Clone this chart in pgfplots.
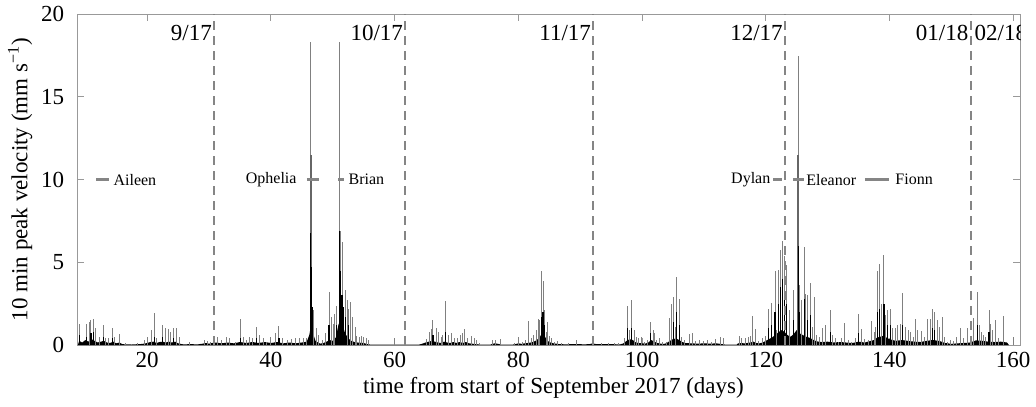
\documentclass[border=0pt]{standalone}
\usepackage{fontspec}
\setmainfont{Liberation Serif}
\usepackage{pgfplots}
\pgfplotsset{compat=1.18}

\definecolor{spike}{gray}{0.5}
\definecolor{mid}{gray}{0.4}
\definecolor{guide}{gray}{0.52}
\definecolor{frame}{gray}{0.6}

\begin{document}
\begin{tikzpicture}
\begin{axis}[
    scale only axis,
    width=471.35pt, height=165.35pt,
    xmin=8.7, xmax=161.1,
    ymin=0, ymax=20,
    xtick={20,40,...,160},
    ytick={0,5,10,15,20},
    axis line style={frame},
    tick style={frame, line width=0.5pt},
    major tick length=3.5pt,
    /pgf/number format/assume math mode=true,
    tick label style={font=\fontsize{11.5}{13}\selectfont},
    yticklabel style={xshift=-3pt},
    label style={font=\fontsize{11.5}{13}\selectfont},
    xlabel={time from start of September 2017 (days)},
    ylabel={10 min peak velocity (mm s\textsuperscript{−1})},
    xlabel style={at={(axis description cs:0.505,-0.13)}, anchor=center},
    ylabel style={at={(axis description cs:-0.0607,0.5)}, anchor=center},
    clip=true,
]

% dense low-level background
\addplot[fill=black, draw=none] coordinates {
(8.8,0)(9,0.25)(9.5,0.15)(10,0.3)(10.5,0.2)(11,0.35)(11.5,0.25)(12,0.15)(12.5,0.2)(13,0.25)
(13.5,0.15)(14,0.12)(14.5,0.2)(15,0.1)(15.5,0.15)(16,0.05)(17,0.03)(18,0.04)(19,0.06)(19.5,0.08)
(20,0.12)(20.5,0.18)(21,0.2)(21.5,0.12)(22,0.18)(22.5,0.2)(23,0.15)(23.5,0.2)(24,0.15)(24.5,0.2)
(25,0.1)(25.5,0.06)(26,0.03)(27,0.06)(28,0.03)(29,0.08)(29.5,0.12)(30,0.08)(30.5,0.12)(31,0.15)
(32,0.1)(33,0.15)(34,0.1)(35,0.18)(36,0.12)(37,0.18)(38,0.12)(39,0.18)(40,0.12)(41,0.18)
(42,0.1)(43,0.15)(44,0.1)(45,0.15)(45.8,0.2)(46.2,0.6)(46.5,1.2)(46.8,0.7)(47.2,0.25)(47.6,0.15)
(48,0.08)(48.5,0.12)(49,0.2)(49.5,0.3)(50,0.25)(50.5,0.45)(50.9,1.2)(51.3,1.6)(51.6,1.2)(52,0.7)
(52.5,0.4)(53,0.25)(53.5,0.18)(54,0.15)(55,0.12)(55.5,0.06)(56,0.03)(62,0.02)(64,0.03)(64.5,0.08)
(65,0.15)(65.5,0.2)(66,0.25)(66.5,0.2)(67,0.15)(67.5,0.12)(68,0.2)(68.5,0.15)(69,0.12)(69.5,0.18)
(70,0.12)(70.5,0.18)(71,0.12)(71.5,0.18)(72,0.1)(72.5,0.08)(73,0.06)(73.5,0.04)(74,0.02)(75.5,0.02)
(75.8,0.08)(76.3,0.1)(76.8,0.06)(77.3,0.02)(79,0.02)(79.5,0.05)(80,0.1)(80.5,0.07)(81,0.1)(81.5,0.12)
(82,0.15)(82.5,0.2)(83,0.3)(83.5,0.5)(83.9,0.75)(84.3,0.5)(84.7,0.25)(85.2,0.15)(85.7,0.1)(86.5,0.06)
(87.5,0.04)(88.5,0.05)(89.5,0.06)(90.5,0.04)(91.5,0.05)(92,0.1)(92.5,0.06)(93.5,0.05)(95,0.05)(96.5,0.04)
(97,0.1)(97.5,0.25)(98,0.35)(98.5,0.3)(99,0.15)(99.5,0.12)(100,0.1)(100.5,0.08)(101,0.15)(101.5,0.3)
(102,0.2)(102.5,0.12)(103,0.08)(103.5,0.06)(104,0.12)(104.5,0.25)(105,0.35)(105.5,0.4)(106,0.3)(106.5,0.18)
(107,0.12)(108,0.1)(109,0.08)(110,0.1)(111,0.08)(112,0.1)(113,0.05)(113.5,0.02)(115.3,0.02)(115.5,0.1)
(116,0.12)(116.5,0.1)(117,0.12)(117.5,0.15)(118,0.2)(118.5,0.12)(119,0.1)(119.5,0.15)(120,0.25)(120.5,0.35)
(121,0.45)(121.5,0.6)(122,0.75)(122.5,0.9)(123,0.8)(123.5,0.6)(124,0.5)(124.5,0.65)(125,0.9)(125.5,0.7)
(126,0.6)(126.5,0.5)(127,0.45)(127.5,0.35)(128,0.25)(128.5,0.2)(129,0.18)(130,0.2)(131,0.15)(132,0.18)
(133,0.15)(134,0.12)(135,0.2)(136,0.15)(137,0.25)(137.5,0.3)(138,0.45)(138.5,0.5)(139,0.55)(139.5,0.45)
(140,0.35)(140.5,0.3)(141,0.25)(142,0.3)(143,0.25)(144,0.2)(145,0.18)(146,0.25)(147,0.3)(148,0.25)
(149,0.12)(150,0.07)(151,0.1)(152,0.12)(153,0.15)(154,0.28)(155,0.25)(156,0.2)(157,0.18)(158,0.2)
(159,0.15)(159.3,0)
} \closedcycle;

% peak values
\addplot[ycomb, spike, line width=0.5pt, mark=none] coordinates {
(9.1,1.25)(10.2,1.25)(10.6,1.4)(10.9,1.5)(11.3,1.6)(11.6,1.0)(12.3,0.5)(12.9,1.2)(13.3,0.45)(13.8,0.4)
(14.4,1.0)(14.7,0.5)(15.5,0.65)(16.5,0.1)(17.5,0.08)(18.5,0.1)(19.5,0.3)(20.0,0.5)(20.7,0.9)(21.2,1.95)
(21.5,0.4)(22.5,1.2)(23.0,1.0)(23.4,0.95)(23.8,0.8)(24.2,1.05)(24.7,1.05)(25.2,0.5)(26.9,0.2)(29.3,0.3)
(29.8,0.25)(30.3,0.2)(31.3,0.5)(32.0,0.3)(32.8,0.5)(33.3,0.4)(34.2,0.2)(35.1,1.6)(35.6,0.5)(36.1,0.3)
(36.5,0.5)(37.0,0.45)(37.7,1.1)(38.2,0.6)(38.8,0.4)(39.3,0.2)(39.9,0.5)(40.7,0.7)(41.3,1.15)(41.9,0.4)
(42.6,0.3)(43.3,0.35)(43.9,0.4)(44.6,0.4)(45.2,0.4)(45.8,0.45)(46.45,18.3)(46.9,2.1)(47.3,1.0)(47.7,0.6)
(48.3,0.3)(48.9,0.75)(49.4,3.2)(49.8,1.7)(50.1,1.3)(50.3,1.9)(50.6,2.35)(51.05,18.3)(51.3,6.9)(51.6,6.25)
(52.0,3.3)(52.3,2.75)(52.6,2.2)(52.9,2.6)(53.2,1.7)(53.6,1.1)(53.9,0.55)(54.3,0.5)(54.7,0.55)(55.0,0.5)
(55.4,0.4)(55.8,0.3)(60.0,0.45)(65.2,0.35)(65.6,0.8)(65.9,0.95)(66.2,1.5)(66.7,1.0)(67.1,0.8)(67.5,0.5)
(67.8,0.6)(68.2,2.65)(68.7,0.6)(69.2,0.7)(69.7,0.45)(70.2,0.45)(70.6,0.6)(70.9,0.7)(71.3,0.95)(71.8,0.4)
(72.4,0.55)(72.9,0.45)(73.3,0.3)(73.8,0.1)(75.9,0.3)(76.3,0.3)(77.1,0.35)(79.3,0.15)(80.0,0.5)(80.6,0.2)
(81.1,0.3)(81.7,1.45)(82.1,0.45)(82.5,0.6)(82.9,0.9)(83.2,1.55)(83.5,1.5)(83.7,4.5)(84.0,3.9)(84.2,2.1)
(84.5,0.8)(84.7,1.4)(85.0,0.55)(85.4,0.4)(85.9,0.2)(86.4,0.25)(87.0,0.1)(88.1,0.15)(89.4,0.3)(92.1,0.4)
(93.5,0.15)(94.5,0.15)(95.5,0.15)(96.2,0.1)(97.2,0.45)(97.6,2.35)(98.0,0.9)(98.3,2.7)(98.7,0.9)(99.1,0.5)
(99.5,0.4)(99.9,0.5)(100.4,0.2)(100.9,0.3)(101.4,1.4)(101.8,0.9)(102.0,0.7)(102.4,0.3)(102.8,0.45)(103.3,0.2)
(103.9,0.2)(104.4,1.65)(104.7,2.5)(105.1,2.9)(105.4,1.1)(105.6,4.1)(106.0,2.8)(106.4,0.5)(106.8,0.3)(107.6,0.65)
(108.2,0.75)(108.7,0.25)(109.3,0.3)(110.0,0.25)(110.6,0.3)(111.2,0.2)(111.8,0.35)(112.6,0.5)(113.1,0.4)(115.7,0.55)
(116.1,0.45)(116.7,0.4)(117.2,0.5)(117.5,0.55)(117.9,1.75)(118.3,0.95)(118.9,0.25)(119.5,0.45)(119.9,0.55)(120.4,2.15)
(120.9,2.55)(121.5,4.45)(121.8,0.9)(122.1,4.55)(122.4,5.75)(122.7,6.3)(123.0,5.4)(123.4,4.85)(123.9,2.1)(124.5,3.3)
(125.25,17.5)(125.5,3.6)(125.8,2.7)(126.2,5.95)(126.5,3.1)(126.8,3.0)(127.2,3.75)(127.5,1.1)(127.8,2.9)(128.2,0.6)
(128.7,0.5)(129.2,1.0)(129.7,1.2)(130.4,2.1)(130.8,0.6)(131.3,0.4)(131.7,0.2)(132.2,0.4)(132.8,1.35)(133.3,0.3)
(133.9,0.2)(134.5,0.4)(135.0,1.9)(135.5,0.95)(136.0,0.35)(136.6,0.3)(137.1,1.45)(137.5,0.8)(137.8,1.1)(138.1,4.5)
(138.4,4.9)(138.7,2.5)(139.1,5.45)(139.4,1.8)(139.7,2.1)(140.1,2.2)(140.5,1.0)(140.9,1.0)(141.3,1.2)(141.7,1.25)
(142.1,3.15)(142.6,1.1)(143.0,0.9)(143.4,0.8)(143.8,0.5)(144.2,1.55)(144.6,0.9)(145.1,0.85)(145.6,0.5)(146.2,1.6)
(146.6,1.6)(146.9,2.2)(147.3,2.0)(147.7,1.5)(148.1,1.1)(148.5,1.7)(148.9,0.5)(149.3,0.2)(149.8,0.3)(150.4,0.25)
(150.9,0.5)(151.5,1.05)(152.0,0.4)(152.6,1.0)(153.3,0.4)(153.6,1.65)(154.2,3.2)(154.5,1.2)(154.8,0.8)(155.2,0.6)
(155.6,0.5)(156.1,2.1)(156.4,1.3)(156.7,0.9)(157.1,1.5)(157.7,0.4)(158.5,1.75)(160.0,0.5)
};

% darker middle part of the storm peaks
\addplot[ycomb, mid, line width=1pt, mark=none] coordinates {
(46.45,11.5)(125.25,11.5)
};

% black cores
\addplot[ycomb, black, line width=0.6pt, mark=none] coordinates {
(9.1,0.6)(10.2,0.5)(10.9,0.7)(11.3,0.8)(12.9,0.5)(14.4,0.4)(21.2,0.5)(22.5,0.5)(24.2,0.4)(35.1,0.4)
(37.7,0.4)(41.3,0.4)(46.35,2.5)(46.45,6.8)(46.55,4.7)(46.7,2.3)(49.4,1.2)(50.6,1.2)(51.05,6.9)(51.3,4.5)
(51.5,3.0)(51.7,2.3)(52.0,1.7)(52.6,1.2)(66.2,0.6)(68.2,0.8)(83.7,1.7)(84.0,2.0)(84.2,1.2)(97.6,1.0)
(98.3,1.0)(101.4,0.7)(105.1,1.4)(105.6,2.0)(106.0,1.2)(120.4,1.0)(120.9,1.2)(121.5,2.0)(122.1,2.5)(122.4,3.5)
(122.7,4.0)(123.0,3.0)(123.4,2.5)(124.5,1.5)(125.25,6.0)(125.5,2.0)(126.2,2.8)(126.8,1.5)(127.2,1.8)(130.4,0.8)
(135.0,0.7)(138.1,2.0)(138.4,2.2)(139.1,2.5)(139.7,1.2)(140.1,1.2)(142.1,1.2)(146.9,1.0)(147.3,0.9)(154.2,1.2)
(156.1,0.8)
};

% month boundaries
\addplot[guide, line width=1pt, dash pattern=on 4.5pt off 3pt] coordinates {(30.8,0)(30.8,20)};
\addplot[guide, line width=1pt, dash pattern=on 4.5pt off 3pt] coordinates {(61.7,0)(61.7,20)};
\addplot[guide, line width=1pt, dash pattern=on 4.5pt off 3pt] coordinates {(92.1,0)(92.1,20)};
\addplot[guide, line width=1pt, dash pattern=on 4.5pt off 3pt] coordinates {(123.1,0)(123.1,20)};
\addplot[guide, line width=1pt, dash pattern=on 4.5pt off 3pt] coordinates {(153.1,0)(153.1,20)};

% named storms
\addplot[guide, line width=1.8pt] coordinates {(11.8,10)(13.8,10)};
\addplot[guide, line width=1.8pt] coordinates {(45.8,10)(47.8,10)};
\addplot[guide, line width=1.8pt] coordinates {(50.9,10)(51.8,10)};
\addplot[guide, line width=1.8pt] coordinates {(121.2,10)(122.7,10)};
\addplot[guide, line width=1.8pt] coordinates {(124.4,10)(126.1,10)};
\addplot[guide, line width=1.8pt] coordinates {(136.0,10)(140.0,10)};

\begin{scope}[every node/.style={inner sep=0pt, font=\fontsize{8}{9}\selectfont}]
\node[anchor=west] at (axis cs:14.5,10) {Aileen};
\node[anchor=east] at (axis cs:44.2,10) {Ophelia};
\node[anchor=west] at (axis cs:52.5,10) {Brian};
\node[anchor=east] at (axis cs:120.8,10) {Dylan};
\node[anchor=west] at (axis cs:126.5,10) {Eleanor};
\node[anchor=west] at (axis cs:140.9,10) {Fionn};
\end{scope}

\begin{scope}[every node/.style={inner sep=0pt, font=\fontsize{11.5}{13}\selectfont}]
\node[anchor=base east] at (axis cs:30.5,18.4) {9/17};
\node[anchor=base east] at (axis cs:61.4,18.4) {10/17};
\node[anchor=base east] at (axis cs:91.8,18.4) {11/17};
\node[anchor=base east] at (axis cs:122.8,18.4) {12/17};
\node[anchor=base east] at (axis cs:152.8,18.4) {01/18};
\node[anchor=base west] at (axis cs:153.7,18.4) {02/18};
\end{scope}
\end{axis}
\pgfresetboundingbox
\path ([xshift=-38.65pt,yshift=-30.5pt]current axis.south west)
  rectangle ([xshift=8pt,yshift=7.15pt]current axis.north east);
\end{tikzpicture}
\end{document}
